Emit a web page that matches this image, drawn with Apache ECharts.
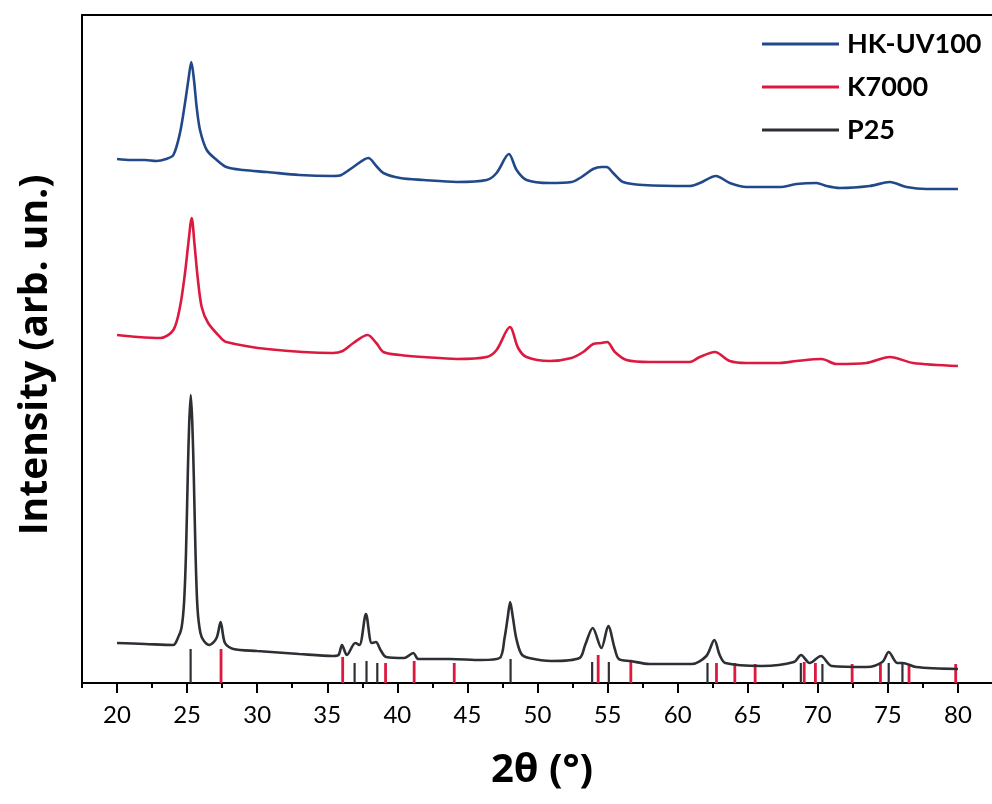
<!DOCTYPE html>
<html>
<head>
<meta charset="utf-8">
<script src="https://cdn.jsdelivr.net/npm/echarts@6/dist/echarts.min.js"></script>
<style>
  html, body { margin: 0; padding: 0; background: #ffffff; }
  #chart { width: 992px; height: 804px; }
</style>
</head>
<body>
<div id="chart"></div>
<script>
// XRD patterns, [2theta, intensity] (arbitrary units, curves already offset)
const hkuv100 = [
  [20.0, 524], [21.0, 523], [22.0, 523], [22.8, 522], [23.5, 524], [24.02, 528],
  [24.49, 550], [24.85, 580], [25.09, 603], [25.3, 621], [25.49, 603], [25.68, 576],
  [25.92, 553], [26.4, 533], [27.11, 523], [27.8, 516], [29.0, 513], [30.7, 511],
  [33.0, 508], [35.4, 507], [36.0, 508], [36.86, 516], [37.93, 525], [38.5, 517],
  [39.0, 510], [40.2, 505], [41.85, 503], [44.23, 501], [46.37, 503], [47.08, 510],
  [47.96, 529], [48.51, 513], [49.22, 503], [50.88, 500], [52.43, 501], [53.14, 506],
  [53.97, 514], [54.57, 516], [54.93, 516], [55.4, 510], [56.11, 501], [57.54, 498],
  [60.87, 497], [61.58, 500], [62.73, 507], [63.72, 500], [64.91, 496], [67.29, 496],
  [68.48, 499], [69.91, 500], [70.62, 497], [71.57, 495], [73.71, 497], [75.14, 501],
  [76.33, 496], [77.75, 494], [80.0, 494]
];
const k7000 = [
  [20.0, 348], [21.5, 346], [23.1, 345], [24.02, 353], [24.49, 376], [24.85, 410],
  [25.09, 440], [25.33, 465], [25.52, 440], [25.75, 406], [26.04, 376], [26.5, 360],
  [27.35, 346], [27.8, 341], [30.7, 334], [35.4, 330], [36.1, 332], [36.86, 340],
  [37.88, 348], [38.5, 340], [39.0, 331], [40.2, 328], [41.85, 326], [44.23, 324],
  [46.37, 326], [47.08, 333], [48.03, 356], [48.62, 335], [49.22, 326], [50.88, 322],
  [52.43, 325], [53.26, 331], [53.97, 339], [54.57, 340], [54.97, 341], [55.52, 331],
  [56.35, 323], [58.02, 321], [60.87, 321], [61.58, 326], [62.65, 331], [63.72, 322],
  [64.91, 320], [67.29, 320], [68.48, 322], [70.27, 324], [71.33, 319], [73.47, 320],
  [75.14, 326], [76.8, 320], [80.0, 317]
];
const p25 = [
  [20.0, 40], [22.0, 39], [24.0, 38], [24.37, 46], [24.6, 55], [24.78, 80],
  [24.92, 130], [25.05, 210], [25.15, 260], [25.26, 288], [25.37, 260], [25.48, 205],
  [25.6, 130], [25.74, 75], [25.95, 50], [26.2, 42], [26.6, 38], [27.1, 45],
  [27.39, 61], [27.7, 40], [28.3, 34], [30.0, 32], [33.0, 29], [35.4, 27],
  [35.8, 28], [36.05, 38], [36.4, 28], [37.0, 40], [37.3, 38], [37.76, 69],
  [38.17, 40], [38.47, 41], [38.8, 33], [39.2, 26], [40.5, 25], [41.14, 30],
  [41.5, 24], [43.75, 24], [46.0, 23], [47.3, 25], [47.65, 45], [47.88, 66],
  [48.05, 81], [48.24, 66], [48.48, 45], [48.85, 29], [49.4, 25], [51.0, 22],
  [53.0, 25], [53.4, 38], [53.94, 55], [54.56, 35], [55.05, 57], [55.5, 35],
  [55.8, 24], [56.65, 22], [58.0, 19], [61.0, 19], [62.05, 27], [62.62, 43],
  [63.0, 28], [63.4, 20], [66.0, 17], [68.3, 21], [68.8, 28], [69.42, 20],
  [70.22, 27], [71.0, 17], [73.5, 16], [74.6, 21], [75.06, 31], [75.68, 20],
  [76.05, 20], [77.0, 16], [80.0, 14]
];
// reference reflections: anatase (dark) and rutile (red), [2theta, stick height]
const anataseRef = [
  [25.25, 34], [36.95, 20], [37.8, 22], [38.57, 20], [48.08, 24], [53.9, 21],
  [55.09, 21], [62.13, 20], [68.79, 20], [70.33, 19], [75.06, 20], [76.04, 19]
];
const rutileRef = [
  [27.42, 34], [36.1, 26], [39.16, 20], [41.2, 22], [44.06, 20], [54.33, 28],
  [56.66, 22], [62.77, 20], [64.08, 20], [65.53, 19], [69.03, 21], [69.83, 20],
  [72.45, 19], [74.47, 19], [76.51, 19], [79.84, 19]
];
const majorTicks = [20, 25, 30, 35, 40, 45, 50, 55, 60, 65, 70, 75, 80];
const minorTicks = [17.5, 22.5, 27.5, 32.5, 37.5, 42.5, 47.5, 52.5, 57.5, 62.5, 67.5, 72.5, 77.5];
const seriesNames = ['HK-UV100', 'K7000', 'P25'];

const BLUE = '#21498a';
const RED = '#dc1a40';
const DARK = '#2c3034';
const X_MIN = 17.5;
const X_MAX = 82.43;

function stick(color, width) {
  return function (params, api) {
    const p0 = api.coord([api.value(0), 0]);
    const p1 = api.coord([api.value(0), api.value(1)]);
    return {
      type: 'line',
      shape: { x1: p0[0], y1: p0[1], x2: p1[0], y2: p1[1] },
      style: { stroke: color, lineWidth: width }
    };
  };
}

const chart = echarts.init(document.getElementById('chart'));
chart.setOption({
  animation: false,
  backgroundColor: '#ffffff',
  textStyle: { fontFamily: 'Lato' },
  grid: { left: 82, top: 15, right: 0, height: 668 },
  legend: {
    data: seriesNames,
    orient: 'vertical',
    left: 757,
    top: 24,
    icon: 'rect',
    itemWidth: 77,
    itemHeight: 3,
    itemGap: 13,
    textStyle: {
      fontFamily: 'Lato',
      fontWeight: 'bold',
      fontSize: 27,
      lineHeight: 30,
      color: '#000',
      padding: [0, 0, 0, 3]
    }
  },
  xAxis: [
    {
      type: 'value',
      min: X_MIN,
      max: X_MAX,
      name: '2θ (°)',
      nameLocation: 'middle',
      nameGap: 68,
      nameTextStyle: { fontFamily: 'Open Sans', fontWeight: 'bold', fontSize: 40, color: '#000', padding: [0, 0, 0, 10] },
      axisLine: { lineStyle: { color: '#000', width: 2 } },
      axisTick: { customValues: majorTicks, length: 10, lineStyle: { color: '#000', width: 2 } },
      axisLabel: { customValues: majorTicks, margin: 20, fontSize: 24, color: '#000', fontFamily: 'Lato' },
      splitLine: { show: false }
    },
    {
      type: 'value',
      min: X_MIN,
      max: X_MAX,
      position: 'bottom',
      axisLine: { show: false },
      axisTick: { customValues: minorTicks, length: 5, lineStyle: { color: '#000', width: 2 } },
      axisLabel: { show: false },
      splitLine: { show: false }
    },
    {
      type: 'value',
      min: X_MIN,
      max: X_MAX,
      position: 'top',
      axisLine: { show: true, lineStyle: { color: '#000', width: 2 } },
      axisTick: { show: false },
      axisLabel: { show: false },
      splitLine: { show: false }
    }
  ],
  yAxis: {
    type: 'value',
    min: 0,
    max: 668,
    name: 'Intensity (arb. un.)',
    nameLocation: 'middle',
    nameGap: 27,
    nameTextStyle: { fontFamily: 'Open Sans', fontWeight: 'bold', fontSize: 39, color: '#000', padding: [0, 12, 0, 0] },
    axisLine: { show: true, lineStyle: { color: '#000', width: 2 } },
    axisTick: { show: false },
    axisLabel: { show: false },
    splitLine: { show: false }
  },
  series: [
    {
      name: 'HK-UV100', type: 'line', data: hkuv100, showSymbol: false,
      smooth: 0.3, color: BLUE, lineStyle: { width: 2.6 }
    },
    {
      name: 'K7000', type: 'line', data: k7000, showSymbol: false,
      smooth: 0.3, color: RED, lineStyle: { width: 2.6 }
    },
    {
      name: 'P25', type: 'line', data: p25, showSymbol: false,
      smooth: 0.3, color: DARK, lineStyle: { width: 2.6 }
    },
    {
      name: 'anatase', type: 'custom', data: anataseRef, renderItem: stick(DARK, 2.2), z: 3
    },
    {
      name: 'rutile', type: 'custom', data: rutileRef, renderItem: stick(RED, 2.8), z: 3
    }
  ]
});
</script>
</body>
</html>
